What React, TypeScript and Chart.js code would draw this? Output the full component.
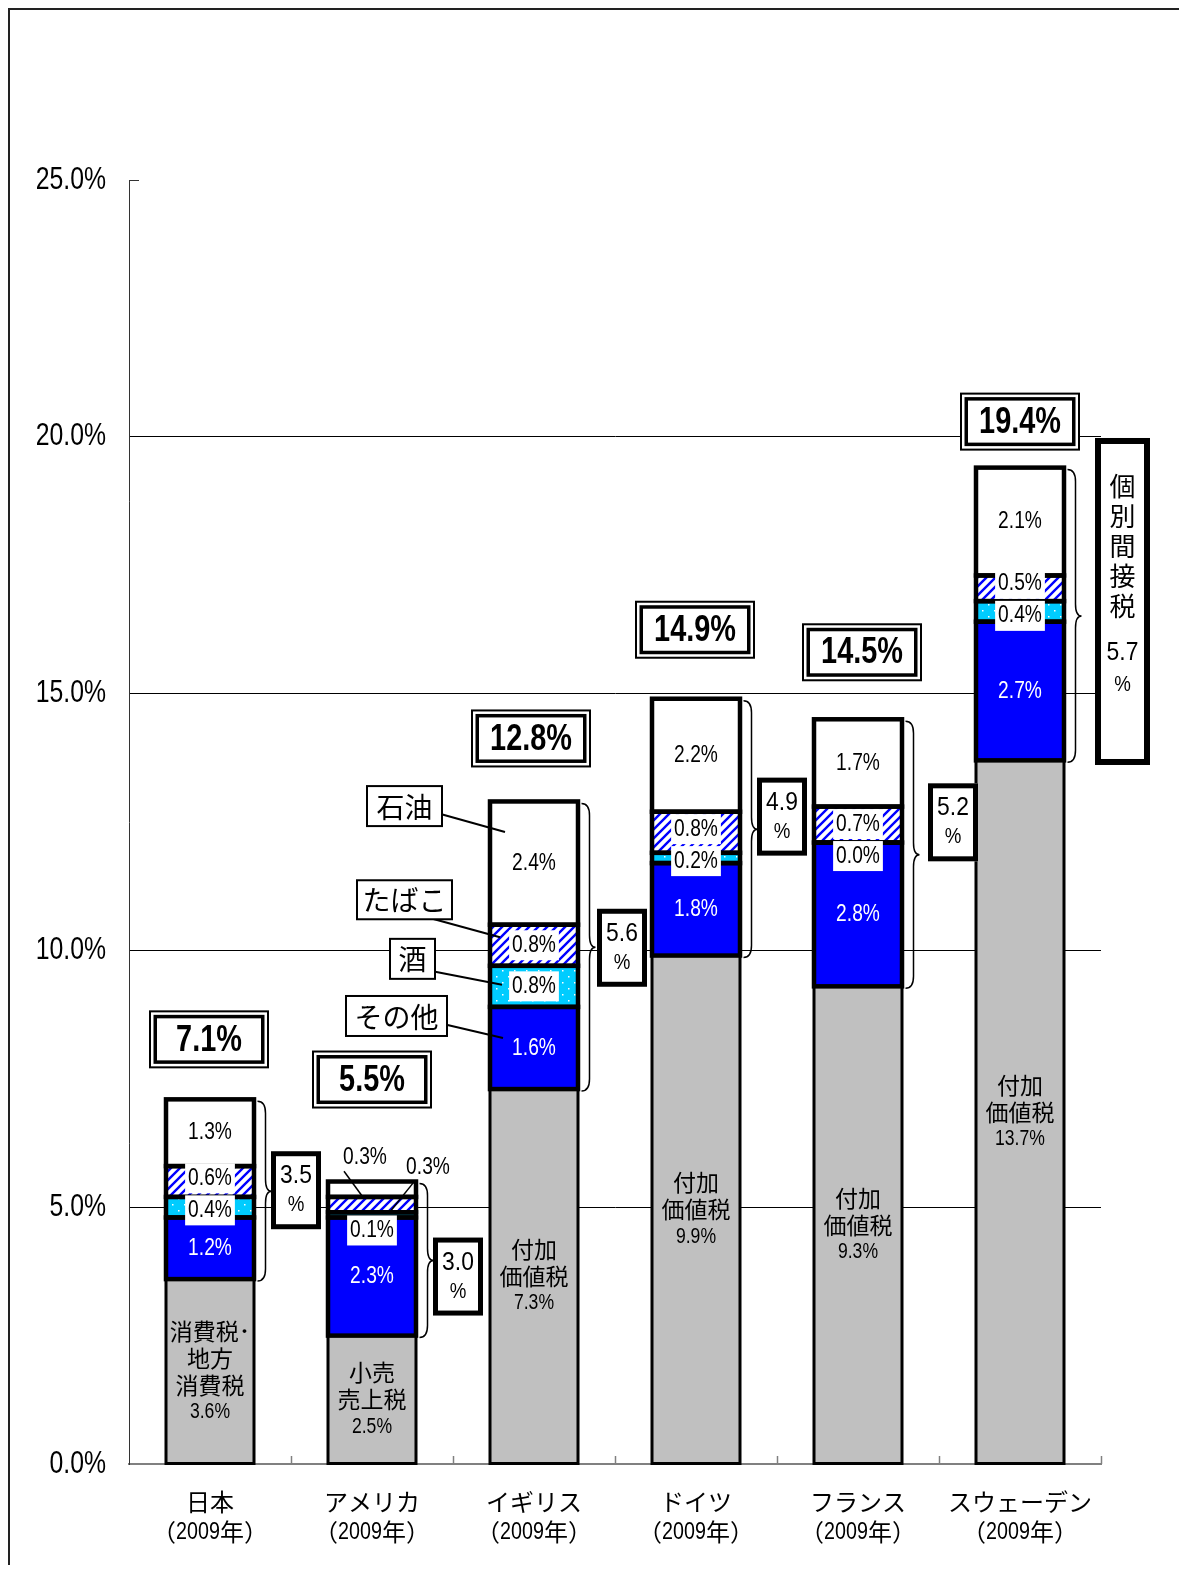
import React, { useEffect, useRef } from 'react';
import { Chart, registerables } from 'chart.js';

Chart.register(...registerables);

// 国別の区分
const countries = ['日本', 'アメリカ', 'イギリス', 'ドイツ', 'フランス', 'スウェーデン'];
const yearNote = '（2009年）';

// 一般消費税の名称
const generalTaxNames = [
  ['消費税･', '地方', '消費税'],
  ['小売', '売上税'],
  ['付加', '価値税'],
  ['付加', '価値税'],
  ['付加', '価値税'],
  ['付加', '価値税'],
];

// 国民所得比（%）
const generalTax = [3.6, 2.5, 7.3, 9.9, 9.3, 13.7];
const otherTax = [1.2, 2.3, 1.6, 1.8, 2.8, 2.7];
const liquorTax = [0.4, 0.1, 0.8, 0.2, 0.0, 0.4];
const tobaccoTax = [0.6, 0.3, 0.8, 0.8, 0.7, 0.5];
const oilTax = [1.3, 0.3, 2.4, 2.2, 1.7, 2.1];

// 合計・個別間接税計（表示値）
const totalRatio = [7.1, 5.5, 12.8, 14.9, 14.5, 19.4];
const exciseRatio = [3.5, 3.0, 5.6, 4.9, 5.2, 5.7];

const seriesNames = ['一般消費税', 'その他', '酒', 'たばこ', '石油'];
const exciseCaption = '個別間接税';

const yMin = 0;
const yMax = 25;
const yStep = 5;

// ---- layout ----
const W = 1171;
const H = 1557;
const LATIN = '"Liberation Sans", Arial, sans-serif';
const JP = '"Noto Sans CJK JP", sans-serif';

const totalBoxLift = [60, 102, 63, 69, 67, 46];
const totalBoxShiftX = [-1, 0, -3, -1, 4, 0];
const sumBoxGap = [17, 17, 19, 17, 26, 31];
const sumBoxShiftY = [1, 18, 2.5, -10.5, -30.5, -12.5];
const captionBoxIndex = 5;

const calloutBar = 2;
const callouts = [
  { seg: 4, text: '石油', ax: 15, ay: -31, bx: -100.5, by: -26, w: 75, h: 40, lx: 32.5, ly: 7 },
  { seg: 3, text: 'たばこ', ax: 10, ay: -8, bx: -95.5, by: -37.5, w: 95, h: 39, lx: 22.5, ly: 17.5 },
  { seg: 2, text: '酒', ax: 12, ay: -1.5, bx: -89.5, by: -26, w: 45, h: 40, lx: 17.5, ly: 12 },
  { seg: 1, text: 'その他', ax: 13, ay: -10, bx: -106.5, by: -22, w: 101, h: 40, lx: 42.5, ly: 7 },
];

const outsideLabels = [
  { bar: 1, seg: 4, tx: -7, ty: -32, ax: -9, ay: 8, lx: -21, ly: 14 },
  { bar: 1, seg: 3, tx: 56, ty: -37.5, ax: 17, ay: 8.4, lx: -15, ly: 16 },
];

function makeHatch(): CanvasPattern | string {
  const c = document.createElement('canvas');
  c.width = 9;
  c.height = 9;
  const g = c.getContext('2d');
  if (!g) return '#0000ff';
  g.fillStyle = '#ffffff';
  g.fillRect(0, 0, 9, 9);
  g.strokeStyle = '#0000ff';
  g.lineWidth = 2.4;
  g.beginPath();
  g.moveTo(-4, 13); g.lineTo(13, -4);
  g.moveTo(-9, 9); g.lineTo(9, -9);
  g.moveTo(0, 18); g.lineTo(18, 0);
  g.stroke();
  return g.createPattern(c, 'repeat') || '#0000ff';
}

function makeDots(): CanvasPattern | string {
  const c = document.createElement('canvas');
  c.width = 12;
  c.height = 12;
  const g = c.getContext('2d');
  if (!g) return '#00ccff';
  g.fillStyle = '#00ccff';
  g.fillRect(0, 0, 12, 12);
  g.fillStyle = '#ffffff';
  g.fillRect(2, 2, 1.5, 1.5);
  g.fillRect(8, 8, 1.5, 1.5);
  return g.createPattern(c, 'repeat') || '#00ccff';
}

type TextOpts = { color?: string; bold?: boolean; align?: 'left' | 'center' | 'right'; sx?: number; jpSize?: number };

// Latin runs are drawn horizontally condensed, Japanese runs at natural width
function drawText(ctx: CanvasRenderingContext2D, s: string, x: number, y: number, size: number, o: TextOpts = {}) {
  const color = o.color ?? '#000';
  const bold = o.bold ?? false;
  const align = o.align ?? 'center';
  const sx = o.sx ?? 0.85;
  const jpSize = o.jpSize ?? size;
  const runs = s.match(/[\x00-\x7F]+|[^\x00-\x7F]+/g) || [];
  const items = runs.map((r) => {
    const latin = /^[\x00-\x7F]/.test(r);
    const font = `${bold ? 'bold ' : ''}${latin ? size : jpSize}px ${latin ? LATIN : JP}`;
    ctx.font = font;
    const w = ctx.measureText(r).width * (latin ? sx : 1);
    return { r, latin, w, font };
  });
  const total = items.reduce((a, b) => a + b.w, 0);
  let cur = align === 'center' ? x - total / 2 : align === 'right' ? x - total : x;
  items.forEach((it) => {
    ctx.save();
    ctx.font = it.font;
    ctx.fillStyle = color;
    ctx.textAlign = 'left';
    ctx.textBaseline = 'middle';
    ctx.translate(cur, y);
    ctx.scale(it.latin ? sx : 1, 1);
    ctx.fillText(it.r, 0, 0);
    ctx.restore();
    cur += it.w;
  });
  return total;
}

function measureText(ctx: CanvasRenderingContext2D, s: string, size: number, sx: number) {
  ctx.font = `${size}px ${LATIN}`;
  return ctx.measureText(s).width * sx;
}

function drawBrace(ctx: CanvasRenderingContext2D, x: number, yt: number, yb: number) {
  const xm = x + 8;
  const xt = x + 14;
  const ym = (yt + yb) / 2;
  const r = 12;
  ctx.beginPath();
  ctx.moveTo(x, yt);
  ctx.quadraticCurveTo(xm, yt, xm, yt + r);
  ctx.lineTo(xm, ym - r);
  ctx.quadraticCurveTo(xm, ym, xt, ym);
  ctx.quadraticCurveTo(xm, ym, xm, ym + r);
  ctx.lineTo(xm, yb - r);
  ctx.quadraticCurveTo(xm, yb, x, yb);
  ctx.lineWidth = 1.5;
  ctx.strokeStyle = '#000';
  ctx.stroke();
}

function line(ctx: CanvasRenderingContext2D, x1: number, y1: number, x2: number, y2: number, w = 2, color = '#000') {
  ctx.beginPath();
  ctx.moveTo(x1, y1);
  ctx.lineTo(x2, y2);
  ctx.lineWidth = w;
  ctx.strokeStyle = color;
  ctx.stroke();
}

type Seg = { left: number; right: number; top: number; bottom: number; cx: number; cy: number };

const decorPlugin = {
  id: 'decor',
  beforeDraw(chart: any) {
    const ctx: CanvasRenderingContext2D = chart.ctx;
    ctx.save();
    ctx.fillStyle = '#fff';
    ctx.fillRect(0, 0, W, H);
    ctx.fillStyle = '#222';
    ctx.fillRect(0, 0, 2, H);
    ctx.fillRect(0, 0, W, 2);
    ctx.restore();
  },
  afterDatasetsDraw(chart: any) {
    const ctx: CanvasRenderingContext2D = chart.ctx;
    const ya = chart.scales.y;
    const xa = chart.scales.x;
    const area = chart.chartArea;
    ctx.save();

    // axis tick marks and tick labels
    const catW = (area.right - area.left) / countries.length;
    for (let i = 1; i <= countries.length; i++) {
      const x = Math.round(area.left + i * catW) + 0.5;
      line(ctx, x, area.bottom, x, area.bottom - 8, 1.5, '#808080');
    }
    const y25 = Math.round(ya.getPixelForValue(yMax)) + 0.5;
    line(ctx, area.left, y25, area.left + 10, y25, 1, '#333');
    ya.ticks.forEach((t: any) => {
      drawText(ctx, `${Number(t.value).toFixed(1)}%`, area.left - 23, ya.getPixelForValue(t.value), 31, { align: 'right', sx: 0.8 });
    });
    (chart.data.labels as string[][]).forEach((lab, i) => {
      const x = xa.getPixelForValue(i);
      lab.forEach((s, k) => drawText(ctx, s, x, area.bottom + 38 + k * 30, 24, { sx: 0.82 }));
    });

    const metas = seriesNames.map((_, i) => chart.getDatasetMeta(i));
    const barSegs: Seg[][] = countries.map((_, j) =>
      metas.map((m: any) => {
        const el = m.data[j];
        const p = el.getProps(['x', 'y', 'base', 'width'], true);
        const top = Math.min(p.y, p.base);
        const bottom = Math.max(p.y, p.base);
        return { left: p.x - p.width / 2, right: p.x + p.width / 2, top, bottom, cx: p.x, cy: (top + bottom) / 2 };
      })
    );

    // outlines
    barSegs.forEach((segs) => {
      ctx.strokeStyle = '#000';
      ctx.lineWidth = 3;
      const g = segs[0];
      ctx.strokeRect(g.left, g.top, g.right - g.left, g.bottom - g.top);
      ctx.lineWidth = 4.5;
      for (let k = 1; k < segs.length; k++) {
        const s = segs[k];
        ctx.strokeRect(s.left, s.top, s.right - s.left, s.bottom - s.top);
      }
    });

    const SEG = 24;
    const SEGX = 0.8;

    barSegs.forEach((segs, j) => {
      const cx = segs[0].cx;
      // general tax caption
      const names = generalTaxNames[j];
      const n = names.length + 1;
      const y0 = segs[0].cy - ((n - 1) * 27) / 2;
      names.forEach((s, i) => drawText(ctx, s, cx, y0 + i * 27, 23));
      drawText(ctx, `${generalTax[j].toFixed(1)}%`, cx, y0 + names.length * 27, 22, { sx: 0.8 });

      // その他
      drawText(ctx, `${otherTax[j].toFixed(1)}%`, cx, segs[1].cy, SEG, { color: '#fff', sx: SEGX });

      const outside = outsideLabels.filter((o) => o.bar === j);
      const isOut = (k: number) => outside.some((o) => o.seg === k);

      // 石油
      if (!isOut(4)) drawText(ctx, `${oilTax[j].toFixed(1)}%`, cx, segs[4].cy, SEG, { sx: SEGX });

      // たばこ・酒 with white backing
      let yh = segs[3].cy;
      let yc = segs[2].cy;
      if (segs[2].bottom - segs[2].top < 8) yc = segs[2].bottom + 13;
      if (!isOut(3) && yc - yh < 32) {
        const mid = (yh + yc) / 2;
        yh = mid - 16;
        yc = mid + 16;
      }
      const backed: [string, number][] = [];
      if (!isOut(3)) backed.push([`${tobaccoTax[j].toFixed(1)}%`, yh]);
      backed.push([`${liquorTax[j].toFixed(1)}%`, yc]);
      backed.forEach(([s, y]) => {
        const tw = measureText(ctx, s, SEG, SEGX) + 6;
        ctx.fillStyle = '#fff';
        ctx.fillRect(cx - tw / 2, y - 15, tw, 30);
        drawText(ctx, s, cx, y, SEG, { sx: SEGX });
      });

      // labels placed outside the bar
      outside.forEach((o) => {
        const s = segs[o.seg];
        const tx = cx + o.tx;
        const ty = s.cy + o.ty;
        line(ctx, tx + o.lx, ty + o.ly, cx + o.ax, s.cy + o.ay, 1.5);
        const v = o.seg === 4 ? oilTax[j] : tobaccoTax[j];
        drawText(ctx, `${v.toFixed(1)}%`, tx, ty, SEG, { sx: SEGX });
      });

      // total box (double frame)
      const top = segs[4].top;
      const bw = 120;
      const bh = 58;
      const bcx = cx + totalBoxShiftX[j];
      const bcy = top - totalBoxLift[j];
      ctx.fillStyle = '#fff';
      ctx.fillRect(bcx - bw / 2, bcy - bh / 2, bw, bh);
      ctx.strokeStyle = '#000';
      ctx.lineWidth = 2;
      ctx.strokeRect(bcx - bw / 2 + 1, bcy - bh / 2 + 1, bw - 2, bh - 2);
      ctx.lineWidth = 3.5;
      ctx.strokeRect(bcx - bw / 2 + 6.25, bcy - bh / 2 + 6.25, bw - 12.5, bh - 12.5);
      drawText(ctx, `${totalRatio[j].toFixed(1)}%`, bcx, bcy + 1, 37, { bold: true, sx: 0.78 });

      // brace over the excise part
      const yt = segs[4].top;
      const yb = segs[1].bottom;
      const outer = segs[1].right + 2.5;
      drawBrace(ctx, outer + 1, yt + 2, yb + 2);

      // excise sum box
      const ym = (yt + yb) / 2 + sumBoxShiftY[j];
      const left = segs[1].right + sumBoxGap[j];
      const tall = j === captionBoxIndex;
      const sw = tall ? 55 : 50;
      const sh = tall ? 327 : 78;
      const stop = ym - sh / 2;
      const lw = tall ? 6 : 5;
      ctx.fillStyle = '#fff';
      ctx.fillRect(left, stop, sw, sh);
      ctx.strokeStyle = '#000';
      ctx.lineWidth = lw;
      ctx.strokeRect(left + lw / 2, stop + lw / 2, sw - lw, sh - lw);
      const scx = left + sw / 2;
      if (tall) {
        Array.from(exciseCaption).forEach((ch, i) => drawText(ctx, ch, scx, stop + 48 + i * 30, 26));
        drawText(ctx, exciseRatio[j].toFixed(1), scx, stop + 215, 26, { sx: 0.88 });
        drawText(ctx, '%', scx, stop + 247, 22, { sx: 0.85 });
      } else {
        drawText(ctx, exciseRatio[j].toFixed(1), scx, ym - 14, 26, { sx: 0.88 });
        drawText(ctx, '%', scx, ym + 15, 22, { sx: 0.85 });
      }
    });

    // series callouts beside one bar
    const cs = barSegs[calloutBar];
    callouts.forEach((c) => {
      const s = cs[c.seg];
      const ax = s.left + c.ax;
      const ay = s.cy + c.ay;
      const bx = ax + c.bx;
      const by = ay + c.by;
      line(ctx, bx + c.lx, by + c.ly, ax, ay, 2);
      ctx.fillStyle = '#fff';
      ctx.fillRect(bx - c.w / 2, by - c.h / 2, c.w, c.h);
      ctx.strokeStyle = '#000';
      ctx.lineWidth = 2;
      ctx.strokeRect(bx - c.w / 2, by - c.h / 2, c.w, c.h);
      drawText(ctx, c.text, bx, by + 1, 28);
    });

    ctx.restore();
  },
};

export default function App() {
  const ref = useRef<HTMLCanvasElement | null>(null);

  useEffect(() => {
    const canvas = ref.current;
    if (!canvas) return;
    const fills = ['#c0c0c0', '#0000ff', makeDots(), makeHatch(), '#ffffff'];
    const series = [generalTax, otherTax, liquorTax, tobaccoTax, oilTax];
    const chart = new Chart(canvas, {
      type: 'bar',
      data: {
        labels: countries.map((c) => [c, yearNote]),
        datasets: series.map((vals, i) => ({
          label: seriesNames[i],
          data: vals,
          backgroundColor: fills[i] as any,
          borderWidth: 0,
          barPercentage: 88 / 162,
          categoryPercentage: 1,
        })),
      },
      options: {
        animation: false,
        responsive: false,
        maintainAspectRatio: false,
        events: [],
        layout: { padding: { top: 172, right: 78, left: 0, bottom: 0 } },
        plugins: { legend: { display: false }, tooltip: { enabled: false } },
        scales: {
          x: {
            stacked: true,
            offset: true,
            grid: { display: false, drawTicks: false },
            border: { display: true, color: '#808080', width: 2 },
            ticks: { display: false, autoSkip: false, maxRotation: 0 },
            afterFit: (s: any) => {
              s.height = 101;
            },
          },
          y: {
            stacked: true,
            min: yMin,
            max: yMax,
            ticks: { display: false, stepSize: yStep },
            grid: {
              drawTicks: false,
              lineWidth: 1,
              color: (c: any) => (c.tick && c.tick.value > yMin && c.tick.value < yMax ? '#000' : 'rgba(0,0,0,0)'),
            },
            border: { display: true, color: '#333', width: 1 },
            afterFit: (s: any) => {
              s.width = 121;
            },
          },
        },
      },
      plugins: [decorPlugin],
    });
    return () => chart.destroy();
  }, []);

  return (
    <div style={{ width: W, height: H, overflow: 'hidden' }}>
      <canvas ref={ref} width={W} height={H} style={{ display: 'block', width: W, height: H }} />
    </div>
  );
}
